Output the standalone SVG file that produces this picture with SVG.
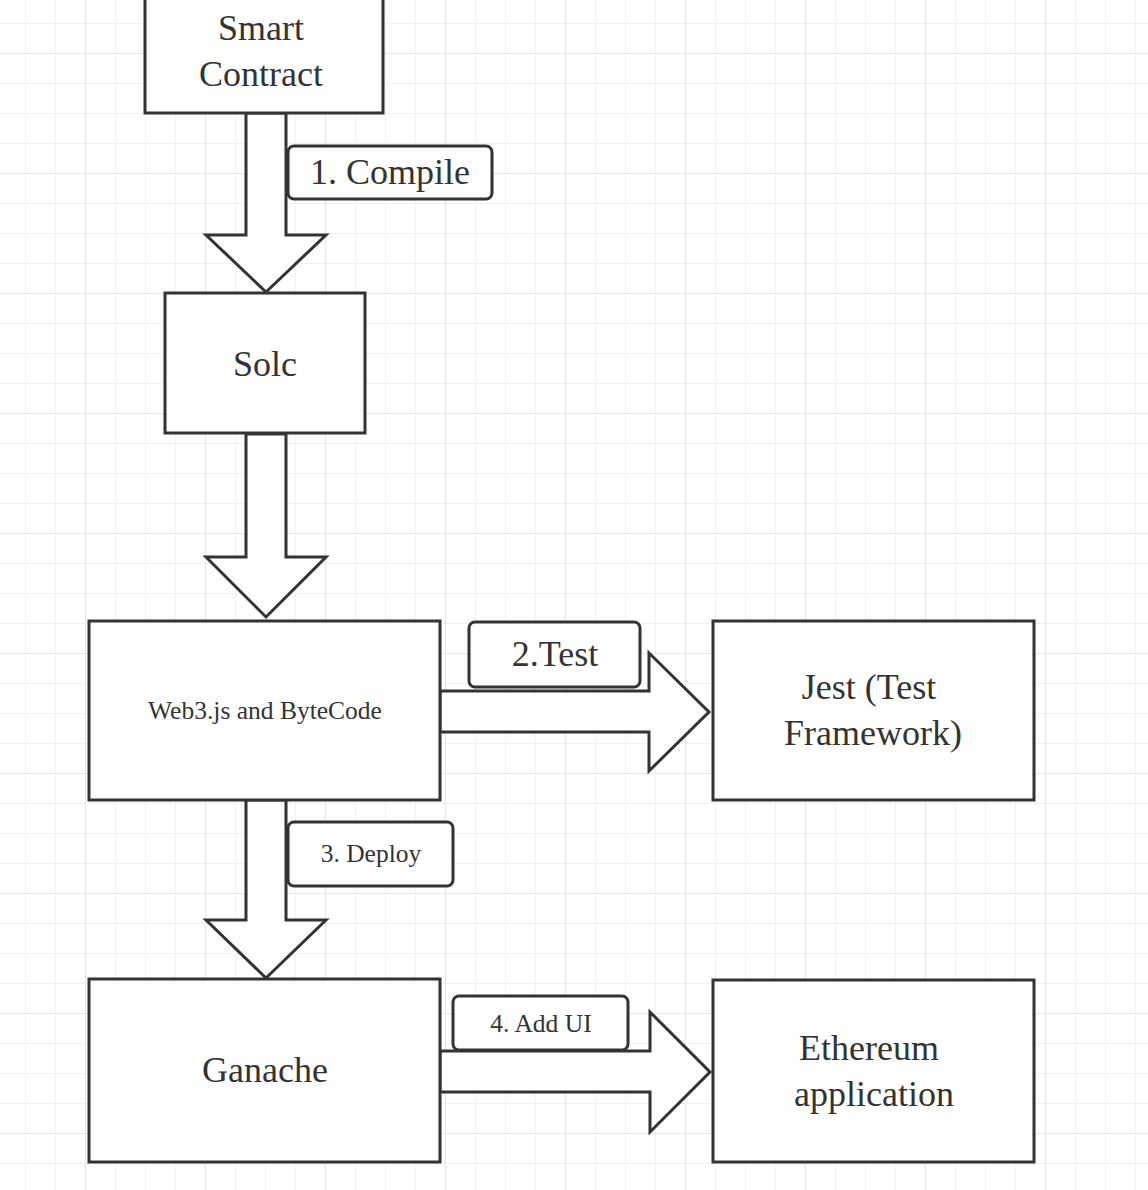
<svg xmlns="http://www.w3.org/2000/svg" width="1148" height="1190" viewBox="0 0 1148 1190">
<style>
.minor{stroke:#f1f1f1;stroke-width:1;fill:none}
.major{stroke:#e5e5e5;stroke-width:1;fill:none}
.box{fill:#fff;stroke:#333;stroke-width:3}
.lbl{fill:#fff;stroke:#333;stroke-width:3}
.arr{fill:#fff;stroke:#333;stroke-width:3;stroke-linejoin:miter}
text{font-family:"Liberation Serif","Times New Roman",serif;fill:#333;text-anchor:middle}
.big{font-size:36px}
.small{font-size:25.5px}
</style>
<rect width="1148" height="1190" fill="#fff"/>
<g id="grid">
<path class="minor" d="M25.5 0V1190M55.5 0V1190M115.5 0V1190M145.5 0V1190M175.5 0V1190M235.5 0V1190M265.5 0V1190M295.5 0V1190M355.5 0V1190M385.5 0V1190M415.5 0V1190M475.5 0V1190M505.5 0V1190M535.5 0V1190M595.5 0V1190M625.5 0V1190M655.5 0V1190M715.5 0V1190M745.5 0V1190M775.5 0V1190M835.5 0V1190M865.5 0V1190M895.5 0V1190M955.5 0V1190M985.5 0V1190M1015.5 0V1190M1075.5 0V1190M1105.5 0V1190M1135.5 0V1190
M0 23.5H1148M0 83.5H1148M0 113.5H1148M0 143.5H1148M0 203.5H1148M0 233.5H1148M0 263.5H1148M0 323.5H1148M0 353.5H1148M0 383.5H1148M0 443.5H1148M0 473.5H1148M0 503.5H1148M0 563.5H1148M0 593.5H1148M0 623.5H1148M0 683.5H1148M0 713.5H1148M0 743.5H1148M0 803.5H1148M0 833.5H1148M0 863.5H1148M0 923.5H1148M0 953.5H1148M0 983.5H1148M0 1043.5H1148M0 1073.5H1148M0 1103.5H1148M0 1163.5H1148"/>
<path class="major" d="M85.5 0V1190M205.5 0V1190M325.5 0V1190M445.5 0V1190M565.5 0V1190M685.5 0V1190M805.5 0V1190M925.5 0V1190M1045.5 0V1190
M0 53.5H1148M0 173.5H1148M0 293.5H1148M0 413.5H1148M0 533.5H1148M0 653.5H1148M0 773.5H1148M0 893.5H1148M0 1013.5H1148M0 1133.5H1148"/>
</g>
<g id="connectors">
<polygon class="arr" points="246,113 286,113 286,235 326,235 266,292 206,235 246,235"/>
<polygon class="arr" points="246,434 286,434 286,557 326,557 266,617 206,557 246,557"/>
<polygon class="arr" points="246,800 286,800 286,920 326,920 266,978 206,920 246,920"/>
<polygon class="arr" points="440,691 649,691 649,653 709,712 649,771 649,732 440,732"/>
<polygon class="arr" points="440,1051 650,1051 650,1012 710,1072 650,1132 650,1092 440,1092"/>
<g id="label-compile">
<rect class="lbl" x="288" y="146" width="204" height="53" rx="6"/>
<text class="big" x="390" y="184">1. Compile</text>
</g>
<g id="label-test">
<rect class="lbl" x="469" y="622" width="171" height="65" rx="6"/>
<text class="big" x="555" y="666">2.Test</text>
</g>
<g id="label-deploy">
<rect class="lbl" x="288" y="822" width="165" height="64" rx="6"/>
<text class="small" x="371" y="862">3. Deploy</text>
</g>
<g id="label-addui">
<rect class="lbl" x="453" y="996" width="175" height="54" rx="6"/>
<text class="small" x="541" y="1032">4. Add UI</text>
</g>
</g>
<g id="smart-contract">
<rect class="box" x="145" y="-20" width="238" height="133"/>
<text class="big" x="261" y="40">Smart</text>
<text class="big" x="261" y="86">Contract</text>
</g>
<g id="solc">
<rect class="box" x="165" y="293" width="200" height="140"/>
<text class="big" x="265" y="376">Solc</text>
</g>
<g id="web3">
<rect class="box" x="89" y="621" width="351" height="179"/>
<text class="small" x="265" y="719">Web3.js and ByteCode</text>
</g>
<g id="jest">
<rect class="box" x="713" y="621" width="321" height="179"/>
<text class="big" x="869" y="699">Jest (Test</text>
<text class="big" x="873" y="745">Framework)</text>
</g>
<g id="ganache">
<rect class="box" x="89" y="979" width="351" height="183"/>
<text class="big" x="265" y="1082">Ganache</text>
</g>
<g id="ethereum">
<rect class="box" x="713" y="980" width="321" height="182"/>
<text class="big" x="869" y="1060">Ethereum</text>
<text class="big" x="874" y="1106">application</text>
</g>
</svg>
